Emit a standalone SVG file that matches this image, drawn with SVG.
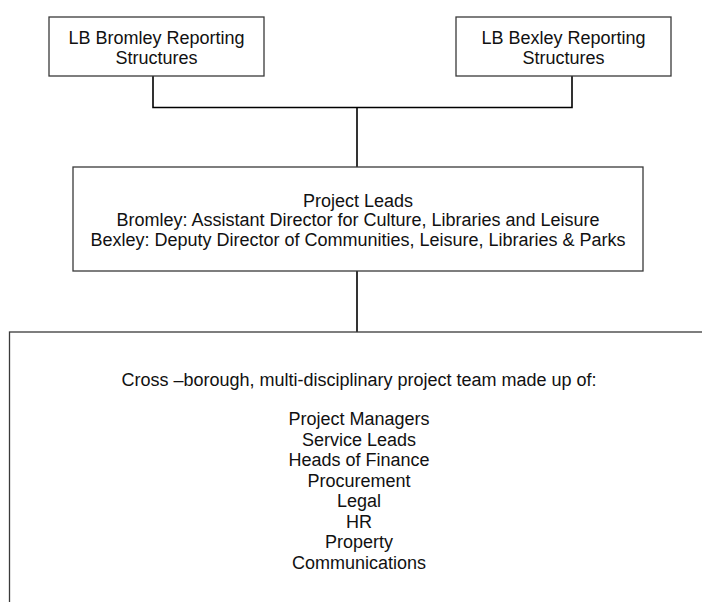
<svg xmlns="http://www.w3.org/2000/svg" width="702" height="602" viewBox="0 0 702 602">
<style>
.box{fill:#fff;stroke:#3a3a3a;stroke-width:1.3}
.t{font-family:"Liberation Sans",Arial,sans-serif;font-size:18px;fill:#111;text-anchor:middle}
.c{fill:none;stroke:#000;stroke-width:1.6}
</style>
<rect width="702" height="602" fill="#fff"/>
<g id="connectors">
<path class="c" d="M153 76V107.5H572V76"/>
<path class="c" d="M357 107.5V167"/>
<path class="c" d="M357 271V332"/>
</g>
<g id="bromley">
<rect class="box" x="49" y="17" width="215" height="59"/>
<text class="t" x="156.5" y="44">LB Bromley Reporting</text>
<text class="t" x="156.5" y="63.5">Structures</text>
</g>
<g id="bexley">
<rect class="box" x="456" y="17" width="215" height="59"/>
<text class="t" x="563.5" y="44">LB Bexley Reporting</text>
<text class="t" x="563.5" y="63.5">Structures</text>
</g>
<g id="leads">
<rect class="box" x="73" y="167" width="570" height="104"/>
<text class="t" x="358" y="207">Project Leads</text>
<text class="t" x="358" y="226">Bromley: Assistant Director for Culture, Libraries and Leisure</text>
<text class="t" x="358" y="245.5">Bexley: Deputy Director of Communities, Leisure, Libraries &amp; Parks</text>
</g>
<g id="team">
<rect class="box" x="9.5" y="332" width="720" height="300"/>
<text class="t" x="359" y="386">Cross –borough, multi-disciplinary project team made up of:</text>
<text class="t" x="359" y="425">Project Managers</text>
<text class="t" x="359" y="446">Service Leads</text>
<text class="t" x="359" y="466">Heads of Finance</text>
<text class="t" x="359" y="487">Procurement</text>
<text class="t" x="359" y="507">Legal</text>
<text class="t" x="359" y="528">HR</text>
<text class="t" x="359" y="548">Property</text>
<text class="t" x="359" y="569">Communications</text>
</g>
</svg>
